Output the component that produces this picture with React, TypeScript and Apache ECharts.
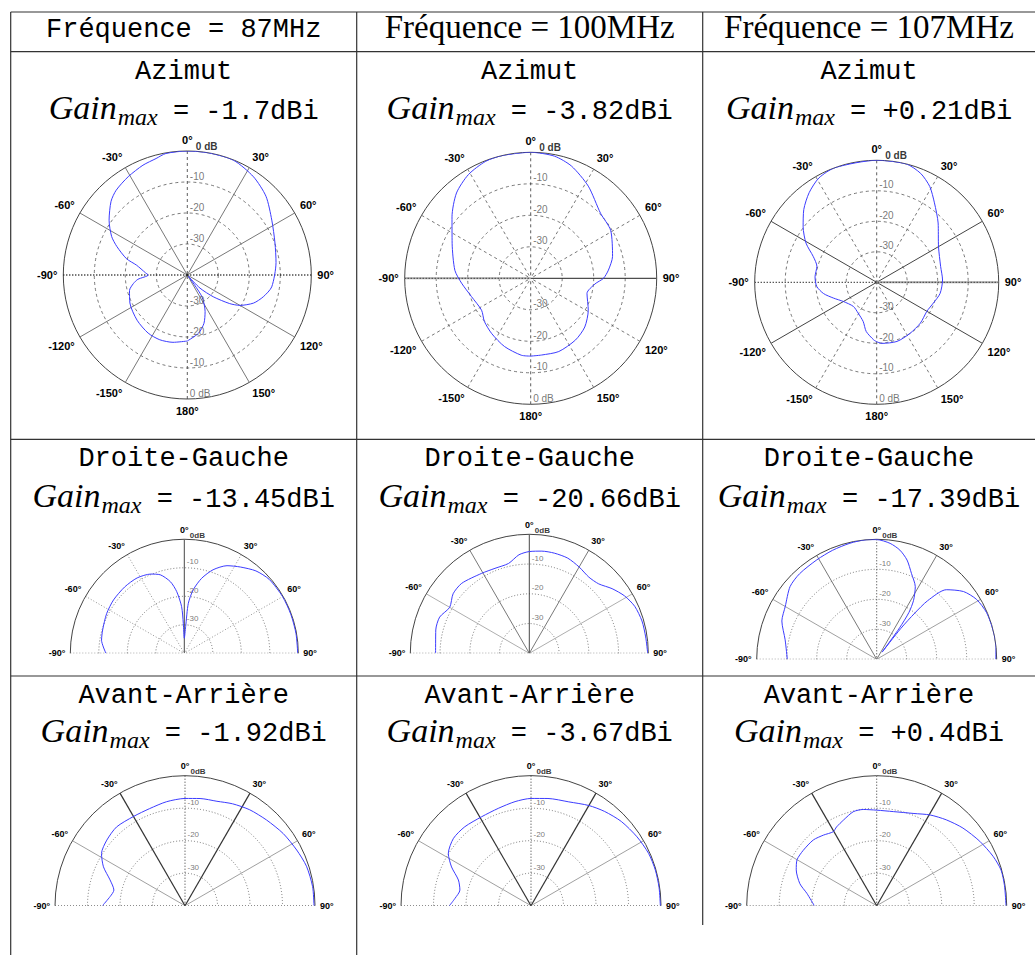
import React, { useEffect, useRef } from 'react';
import * as echarts from 'echarts';

// ---------------- table texts ----------------
const frequencyLabels = ['Fréquence = 87MHz', 'Fréquence = 100MHz', 'Fréquence = 107MHz'];
const planeLabels = ['Azimut', 'Droite-Gauche', 'Avant-Arrière'];
const gainMaxAzimut = ['-1.7dBi', '-3.82dBi', '+0.21dBi'];
const gainMaxDroiteGauche = ['-13.45dBi', '-20.66dBi', '-17.39dBi'];
const gainMaxAvantArriere = ['-1.92dBi', '-3.67dBi', '+0.4dBi'];

// ---------------- polar tick labels ----------------
const dbRingValues = [0, -10, -20, -30];
const dbLabelsFull = ['0 dB', '-10', '-20', '-30'];
const dbLabelsHalf = ['0dB', '-10', '-20', '-30'];

// ---------------- radiation patterns (angle in degrees, level in dB) ----------------
const az87Angle = [-180, -168, -157, -146, -132, -116, -105, -99, -95, -90, -87, -79, -75, -68, -63, -55, -46, -40, -31, -22, -15, -10, 0, 10, 22, 34, 45, 57, 70, 82, 98, 106, 113, 120, 124, 130, 136, 140, 146, 154, 161, 169, 180];
const az87Db = [-18.7, -17.8, -17.3, -17.4, -18.2, -19.4, -20.7, -22.4, -24.0, -27.4, -26.5, -23.3, -19.7, -15.5, -12.6, -9.2, -5.8, -4.3, -3.0, -1.8, -1.1, -0.2, 0, 0, -0.1, -1.8, -4.1, -7.5, -9.9, -11.1, -12.5, -14.5, -16.8, -20.4, -23.5, -29.1, -34.1, -39.5, -31.6, -26.9, -23.5, -20.9, -18.7];

const az100Angle = [-180, -173, -159, -145, -133, -123, -107, -94, -84, -66, -52, -41, -31, -21, -13, 0, 11, 20, 32, 47, 59, 75, 84, 90, 95, 105, 119, 132, 144, 159, 172, 180];
const az100Db = [-15.3, -15.4, -16.8, -18.5, -19.9, -21.4, -20.3, -18.0, -15.8, -12.7, -8.3, -4.1, -1.6, -0.2, 0, 0, -0.5, -2.1, -5.5, -9.7, -10.4, -13.1, -15.2, -16.9, -19.5, -21.5, -19.1, -16.9, -15.8, -15.1, -15.4, -15.3];

const az107Angle = [-180, -177, -168, -161, -149, -136, -120, -110, -102, -94, -85, -75, -68, -61, -53, -45, -37, -29, -20, 0, 14, 22, 29, 36, 46, 60, 76, 88, 100, 110, 120, 133, 147, 161, 175, 180];
const az107Db = [-20.5, -21.1, -23.5, -26.4, -28.2, -29.0, -27.4, -24.9, -22.2, -20.3, -19.7, -19.7, -17.6, -13.5, -9.8, -6.2, -3.2, -0.9, 0, 0, 0, -1.5, -4.1, -7.8, -12.0, -16.6, -18.4, -18.4, -18.9, -20.2, -21.0, -20.4, -20.0, -19.5, -19.9, -20.5];

const dg87Angle = [-90, -81, -74, -63, -53, -42, -32, -23, -17, -11, -7, -3.3, -1.9, 0, 2.9, 4.6, 8, 13, 19, 26, 33, 41, 49, 60, 70, 80, 90];
const dg87Db = [-12.5, -10.6, -10.2, -9.4, -8.9, -8.7, -8.8, -9.8, -11.2, -14.4, -18.2, -23.6, -29.5, -34.7, -30.6, -22.4, -17.5, -13.0, -9.0, -5.8, -3.9, -1.7, -0.5, -0.2, -0.2, -0.2, -0.2];

const dg100Angle = [-90, -76, -68, -60, -52, -44, -31, -22, -13, -6, 0, 7, 14, 22, 30, 38, 45, 52, 59, 66, 74, 82, 90];
const dg100Db = [-8.5, -7.6, -7.5, -9.1, -7.5, -7.3, -8.7, -9.2, -9.0, -6.7, -5.8, -5.4, -5.3, -5.5, -6.5, -7.5, -7.0, -4.7, -2.6, -1.2, -0.6, -0.5, -0.2];

const dg107Angle = [-90, -78, -68, -60, -50, -42, -31, -22, -13, -5, 0, 6.6, 12, 17, 22, 28, 32, 34.5, 36, 37, 38, 39.5, 41, 45, 52, 59, 67, 76, 84, 90];
const dg107Db = [-10.2, -8.8, -5.9, -4.8, -2.3, -1.6, -1.3, -0.8, -0.3, 0, -0.1, -1.1, -2.8, -5.4, -9.1, -12.6, -16.8, -21, -27, -37, -27, -20, -14.1, -7.2, -3.3, -1.2, -0.2, 0, 0, -0.3];

const aa87Angle = [-90, -83, -77.6, -71, -64.5, -58, -50, -41, -30, -20, -10, 0, 8, 17, 25, 34, 43.6, 53.7, 63.5, 72, 81.5, 90];
const aa87Db = [-14.6, -16.8, -17.6, -15.6, -12.2, -9.7, -8.6, -7.9, -8.3, -8.2, -7.5, -7.0, -6.7, -6.4, -5.4, -4.4, -3.6, -2.5, -1.6, -0.7, -0.3, -0.3];

const aa100Angle = [-90, -84.5, -77.6, -70.5, -64, -57.7, -49, -40, -29, -18.6, -8.7, 0, 9, 20, 30, 38, 47, 57, 66, 74, 82, 90];
const aa100Db = [-14.9, -16.5, -17.6, -16.3, -12.8, -9.9, -8.4, -8.3, -8.7, -8.4, -7.6, -7.0, -6.6, -6.0, -4.4, -3.2, -2.0, -1.1, -0.4, -0.2, -0.2, -0.2];

const aa107Angle = [-90, -80, -74, -66, -60, -53, -44, -37, -30.4, -27, -21, -14, -8, 0, 10, 22, 30.5, 39, 48, 58, 67, 74, 81, 90];
const aa107Db = [-20.8, -18.2, -15.4, -12.9, -11.7, -11.7, -11.9, -12.8, -13.6, -12.8, -11.7, -10.2, -10.1, -10.6, -10.6, -9.4, -7.6, -6.0, -4.3, -2.6, -1.1, -0.2, -0.2, -0.2];

// ---------------- layout / styles ----------------
const DASH = [3, 3];
const DOT = [1, 2];
const MONO = '"Liberation Mono", "DejaVu Sans Mono", monospace';
const SERIF = '"Liberation Serif", "DejaVu Serif", serif';
const SANS = '"Liberation Sans", Arial, sans-serif';

type Spoke = { a: number; type: any; color: string; width: number };
const sp = (a: number, type: any, color = '#555', width = 0.8): Spoke => ({ a, type, color, width });

const halfRowSpokes = (): Spoke[] => [
  sp(-90, DOT, '#444', 1), sp(-60, 'solid', '#888', 0.8), sp(-30, 'solid', '#333', 1.2),
  sp(0, DOT, '#333', 1), sp(30, 'solid', '#333', 1.2), sp(60, 'solid', '#888', 0.8), sp(90, DOT, '#444', 1),
];

const panels = [
  { half: false, cx: 187.3, cy: 275, r: 124, angles: az87Angle, db: az87Db,
    spokes: [sp(0, DASH, '#333'), sp(180, DASH, '#333'), sp(30, 'solid'), sp(-150, 'solid'), sp(60, 'solid'), sp(-120, 'solid'),
      sp(120, 'solid'), sp(-60, 'solid'), sp(150, 'solid'), sp(-30, 'solid'), sp(90, DOT, '#000', 1.3), sp(-90, DOT, '#000', 1.3)] },
  { half: false, cx: 530.7, cy: 278.3, r: 126, angles: az100Angle, db: az100Db,
    spokes: [sp(0, DASH, '#333'), sp(180, DASH, '#333'), sp(30, DASH), sp(-150, DASH), sp(60, DASH), sp(-120, DASH),
      sp(120, DASH), sp(-60, DASH), sp(150, DASH), sp(-30, DASH), sp(-90, 'solid', '#aaa', 2), sp(-90, DOT, '#111', 1), sp(90, 'solid', '#222', 1)] },
  { half: false, cx: 876.7, cy: 282.3, r: 122, angles: az107Angle, db: az107Db,
    spokes: [sp(0, DASH, '#333'), sp(180, DASH, '#333'), sp(30, DASH), sp(-150, DASH), sp(60, 'solid', '#444', 1), sp(-120, 'solid', '#444', 1),
      sp(120, 'solid', '#444', 1), sp(-60, 'solid', '#444', 1), sp(150, DASH), sp(-30, DASH), sp(90, 'solid', '#aaa', 2), sp(90, DOT, '#111', 1), sp(-90, DOT, '#111', 1.2)] },
  { half: true, cx: 184.3, cy: 653.3, r: 114, angles: dg87Angle, db: dg87Db,
    spokes: [sp(-90, DOT, '#333', 1), sp(-60, DOT, '#777'), sp(-30, DOT, '#777'), sp(0, 'solid', '#333', 0.9), sp(30, DOT, '#777'), sp(60, DOT, '#777'), sp(90, DOT, '#333', 1)] },
  { half: true, cx: 529.3, cy: 653.3, r: 119, angles: dg100Angle, db: dg100Db,
    spokes: [sp(-90, DOT, '#333', 1), sp(-60, 'solid', '#999'), sp(-30, 'solid', '#555'), sp(0, 'solid', '#333', 0.9), sp(30, 'solid', '#555'), sp(60, 'solid', '#999'), sp(90, DOT, '#333', 1)] },
  { half: true, cx: 876.7, cy: 659.3, r: 120, angles: dg107Angle, db: dg107Db,
    spokes: [sp(-90, DOT, '#333', 1), sp(-60, 'solid', '#888'), sp(-30, 'solid', '#555'), sp(0, DOT, '#333', 1), sp(30, 'solid', '#555'), sp(60, 'solid', '#888'), sp(90, DOT, '#333', 1)] },
  { half: true, cx: 185, cy: 905.7, r: 130, angles: aa87Angle, db: aa87Db, spokes: halfRowSpokes() },
  { half: true, cx: 531, cy: 905.7, r: 130, angles: aa100Angle, db: aa100Db, spokes: halfRowSpokes() },
  { half: true, cx: 876.7, cy: 905.7, r: 130, angles: aa107Angle, db: aa107Db, spokes: halfRowSpokes() },
];

const colLeft = [10.7, 356.7, 702.7];
const colCenter = [183.7, 529.7, 869];
const hLines = [12, 51.7, 439.3, 676];
const vLines = [
  { x: 10.7, y2: 955 },
  { x: 356.7, y2: 955 },
  { x: 702.7, y2: 925 },
];
const headerBaseline = 37.7;
const planeBaselines = [79.3, 466.7, 703.3];
const gainBaselines = [119, 507.3, 741.7];

let measureCtx: CanvasRenderingContext2D | null = null;
function measure(text: string, font: string): number {
  if (!measureCtx) measureCtx = document.createElement('canvas').getContext('2d');
  measureCtx!.font = font;
  return measureCtx!.measureText(text).width;
}

function txt(text: string, x: number, y: number, size: number, family: string, align = 'center', italic = false) {
  return {
    type: 'text', x, y, silent: true,
    style: { text, fontSize: size, fontFamily: family, fontStyle: italic ? 'italic' : 'normal', fill: '#000', align, verticalAlign: 'middle' },
  };
}

const MONO_SIZE = 27;
const SERIF_SIZE = 33;
const GAIN_SIZE = 34;
const SUB_SIZE = 24;
const MONO_C = 0.267;
const SERIF_C = 0.3375;

function gainLine(value: string, cx: number, baseline: number) {
  const s = ' = ' + value;
  const fG = `italic ${GAIN_SIZE}px "Liberation Serif"`;
  const fM = `italic ${SUB_SIZE}px "Liberation Serif"`;
  const fT = `${MONO_SIZE}px "Liberation Mono"`;
  const wG = measure('Gain', fG);
  const wM = measure('max', fM);
  const wT = measure(s, fT);
  const x0 = cx - (wG + wM + wT) / 2;
  return [
    txt('Gain', x0, baseline - SERIF_C * GAIN_SIZE, GAIN_SIZE, SERIF, 'left', true),
    txt('max', x0 + wG + 1, baseline + 6 - SERIF_C * SUB_SIZE, SUB_SIZE, SERIF, 'left', true),
    txt(s, x0 + wG + wM, baseline - MONO_C * MONO_SIZE, MONO_SIZE, MONO, 'left'),
  ];
}

function buildOption() {
  const gainRows = [gainMaxAzimut, gainMaxDroiteGauche, gainMaxAvantArriere];
  const elements: any[] = [];
  hLines.forEach((y) => elements.push({ type: 'line', silent: true, shape: { x1: colLeft[0], y1: y, x2: 1035, y2: y }, style: { stroke: '#333', lineWidth: 1.2 } }));
  vLines.forEach((v) => elements.push({ type: 'line', silent: true, shape: { x1: v.x, y1: hLines[0], x2: v.x, y2: v.y2 }, style: { stroke: '#333', lineWidth: 1.2 } }));
  frequencyLabels.forEach((t, c) => {
    if (c === 0) elements.push(txt(t, colCenter[c], headerBaseline - MONO_C * MONO_SIZE, MONO_SIZE, MONO));
    else elements.push(txt(t, colCenter[c], headerBaseline - SERIF_C * SERIF_SIZE, SERIF_SIZE, SERIF));
  });
  planeLabels.forEach((t, r) => {
    colCenter.forEach((cx, c) => {
      elements.push(txt(t, cx, planeBaselines[r] - MONO_C * MONO_SIZE, MONO_SIZE, MONO));
      elements.push(...gainLine(gainRows[r][c], cx, gainBaselines[r]));
    });
  });

  const series: any[] = [];
  panels.forEach((p, i) => {
    p.spokes.forEach((s) => {
      series.push({
        type: 'line', coordinateSystem: 'polar', polarIndex: i, symbol: 'none', silent: true, z: 2,
        data: [[0, s.a], [-40, s.a]],
        lineStyle: { color: s.color, width: s.width, type: s.type },
      });
    });
    series.push({
      type: 'line', coordinateSystem: 'polar', polarIndex: i, symbol: 'none', silent: true, z: 4,
      smooth: 0.25,
      data: p.angles.map((a, k) => [p.db[k], a]),
      lineStyle: { color: '#3c3cff', width: 1 },
    });
    const fs = p.half ? 8 : 10;
    const labels = p.half ? dbLabelsHalf : dbLabelsFull;
    const mk = (v: number, ang: number, text: string, top: boolean) => ({
      value: [v, ang], name: text,
      label: top ? { color: '#000', fontWeight: 'bold', offset: p.half ? [3, -4] : [6, -5] } : undefined,
    });
    const data: any[] = dbRingValues.map((v, k) => mk(v, 0, labels[k], k === 0));
    if (!p.half) dbRingValues.forEach((v, k) => data.push(mk(v, 180, labels[k], false)));
    series.push({
      type: 'scatter', coordinateSystem: 'polar', polarIndex: i, silent: true, z: 5,
      symbolSize: 1, itemStyle: { color: 'rgba(0,0,0,0)' },
      data,
      label: { show: true, formatter: '{b}', position: 'right', distance: 2, offset: [0, -6], fontSize: fs, fontFamily: SANS, color: '#555' },
    });
  });

  return {
    animation: false,
    polar: panels.map((p) => ({ center: [p.cx, p.cy], radius: p.r })),
    angleAxis: panels.map((p, i) => {
      const ax: any = {
        polarIndex: i, type: 'value', min: p.half ? -90 : -180, max: p.half ? 90 : 180, interval: 30,
        startAngle: p.half ? 180 : 270, clockwise: true,
        axisLine: { show: true, lineStyle: { color: '#444', width: 1 } },
        axisTick: { show: false },
        splitLine: { show: false },
        axisLabel: {
          show: true, margin: p.half ? 5 : 6, color: '#000', fontWeight: 'bold', fontFamily: SANS, fontSize: p.half ? 9 : 11,
          formatter: (v: number) => (Math.abs(v) === 180 ? '180' : String(v)) + '°',
        },
      };
      if (p.half) ax.endAngle = 0;
      return ax;
    }),
    radiusAxis: panels.map((p, i) => ({
      polarIndex: i, type: 'value', min: -40, max: 0, interval: 10,
      axisLine: { show: false }, axisTick: { show: false }, axisLabel: { show: false },
      splitLine: {
        show: true,
        lineStyle: { color: ['rgba(0,0,0,0)', '#555', '#555', '#555', 'rgba(0,0,0,0)'], width: 0.8, type: p.half ? DOT : DASH },
      },
    })),
    series,
    graphic: { elements },
  };
}

export default function App() {
  const ref = useRef<HTMLDivElement>(null);
  useEffect(() => {
    if (!ref.current) return;
    const chart = echarts.init(ref.current, undefined, { renderer: 'svg' });
    chart.setOption(buildOption() as any);
    return () => chart.dispose();
  }, []);
  return <div ref={ref} style={{ position: 'absolute', left: 0, top: 0, width: 1035, height: 955, background: '#fff' }} />;
}
